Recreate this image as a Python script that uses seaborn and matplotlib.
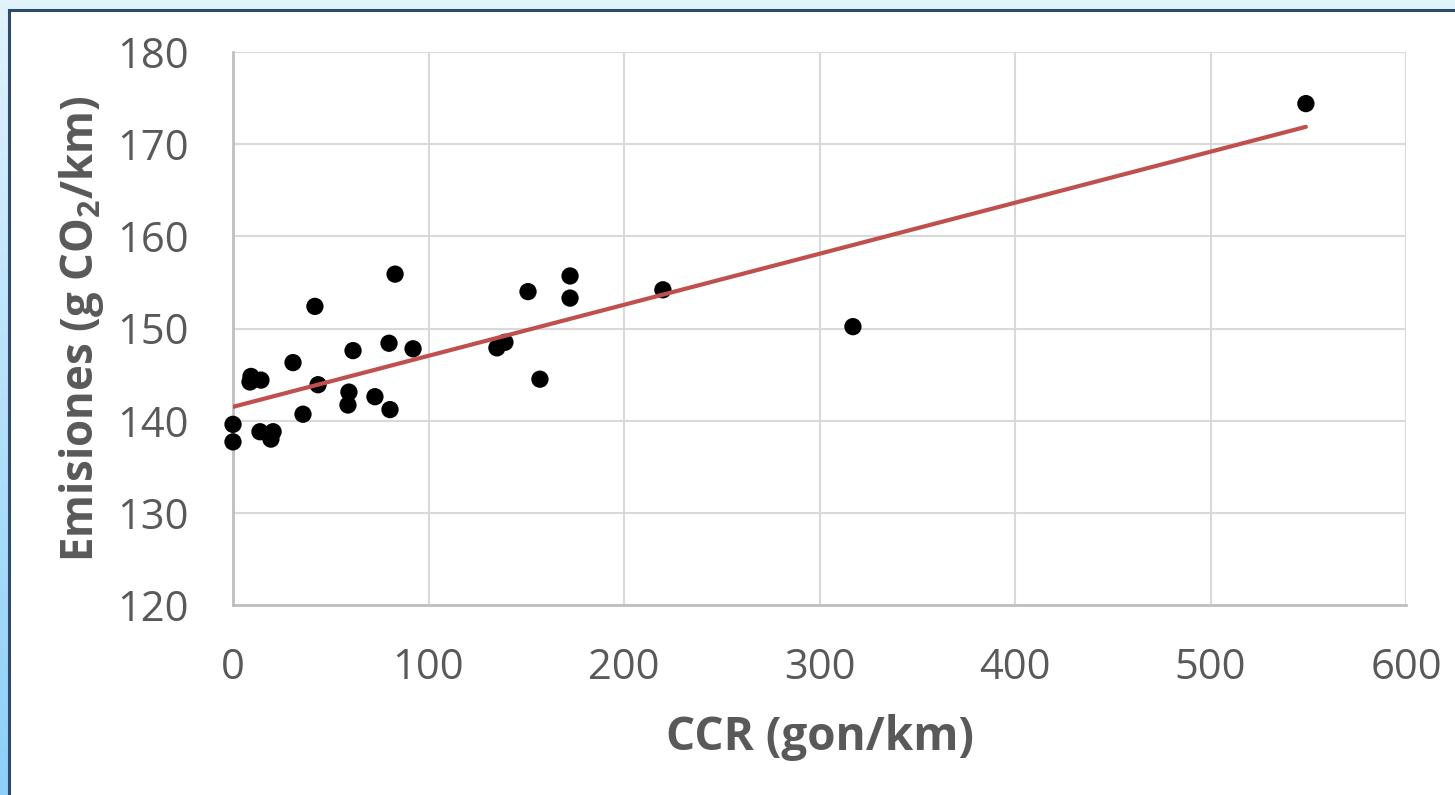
import numpy as np
import pandas as pd
import matplotlib
matplotlib.use("Agg")
import matplotlib.pyplot as plt
import seaborn as sns
from matplotlib.patches import Rectangle

# CCR (gon/km) vs emissions (g CO2/km)
ccr = [0, 0, 9.2, 8.7, 14.3, 13.8, 20.5, 19.4, 30.7, 35.8,
       41.9, 43.5, 59.3, 58.8, 61.4, 72.6, 79.8, 80.3, 82.9, 92.1,
       135.0, 139.1, 150.9, 157.0, 172.4, 172.4, 219.9, 317.1, 548.8]
emisiones = [139.6, 137.7, 144.8, 144.2, 144.4, 138.8, 138.8, 138.0, 146.3, 140.7,
             152.4, 143.9, 143.1, 141.7, 147.6, 142.6, 148.4, 141.2, 155.9, 147.8,
             147.9, 148.5, 154.0, 144.5, 155.7, 153.3, 154.2, 150.2, 174.4]

x_ticks = [0, 100, 200, 300, 400, 500, 600]
y_ticks = [120, 130, 140, 150, 160, 170, 180]

df = pd.DataFrame({"ccr": ccr, "emisiones": emisiones})

sns.set_theme(style="white")
plt.rcParams["font.family"] = ["Open Sans", "DejaVu Sans"]
plt.rcParams["mathtext.fontset"] = "custom"
plt.rcParams["mathtext.rm"] = "Open Sans:bold"
plt.rcParams["mathtext.bf"] = "Open Sans:bold"

fig = plt.figure(figsize=(14.55, 7.95), dpi=100)
fig.patch.set_facecolor("#e2f3fc")

# blue gradient strip on the left
bg = fig.add_axes([0, 0, 1, 1], zorder=-10)
grad = np.linspace(0, 1, 256).reshape(-1, 1)
bg.imshow(grad, aspect="auto", extent=[0, 1, 0, 1],
          cmap=matplotlib.colors.LinearSegmentedColormap.from_list("b", ["#e2f3fc", "#8ccff8"]))
bg.set_xlim(0, 1)
bg.set_ylim(0, 1)
bg.add_patch(Rectangle((9 / 1455, -0.1), 1.2, 1 - 10 / 795 + 0.1,
                       facecolor="white", edgecolor="#2c4a6e", linewidth=2.2))
bg.axis("off")

ax = fig.add_axes([233 / 1455, 1 - 605 / 795, (1406 - 233) / 1455, (605 - 52) / 795])
ax.set_facecolor("white")

sns.regplot(data=df, x="ccr", y="emisiones", ax=ax, ci=None,
            scatter_kws=dict(s=155, color="black", edgecolor="none", alpha=1,
                             zorder=3, clip_on=False),
            line_kws=dict(color="#c0504d", linewidth=3, zorder=4))

ax.set_xlim(0, 600)
ax.set_ylim(120, 180)
ax.set_xticks(x_ticks)
ax.set_yticks(y_ticks)
ax.grid(True, color="#d9d9d9", linewidth=1.5)
ax.set_axisbelow(True)
for s in ["top", "right"]:
    ax.spines[s].set_visible(False)
ax.spines["left"].set_color("#bfbfbf")
ax.spines["bottom"].set_color("#bfbfbf")
ax.spines["left"].set_linewidth(2)
ax.spines["bottom"].set_linewidth(2)
ax.tick_params(length=0, labelsize=30, labelcolor="#595959")
ax.tick_params(axis="y", pad=32)
ax.tick_params(axis="x", pad=30)

ax.set_xlabel("CCR (gon/km)", fontsize=33, fontweight="bold", color="#595959", labelpad=18)
ax.set_ylabel(r"Emisiones (g CO$_\mathbf{2}$/km)", fontsize=31.5, fontweight="bold",
              color="#595959", labelpad=8)

fig.savefig("out.png", dpi=100)
